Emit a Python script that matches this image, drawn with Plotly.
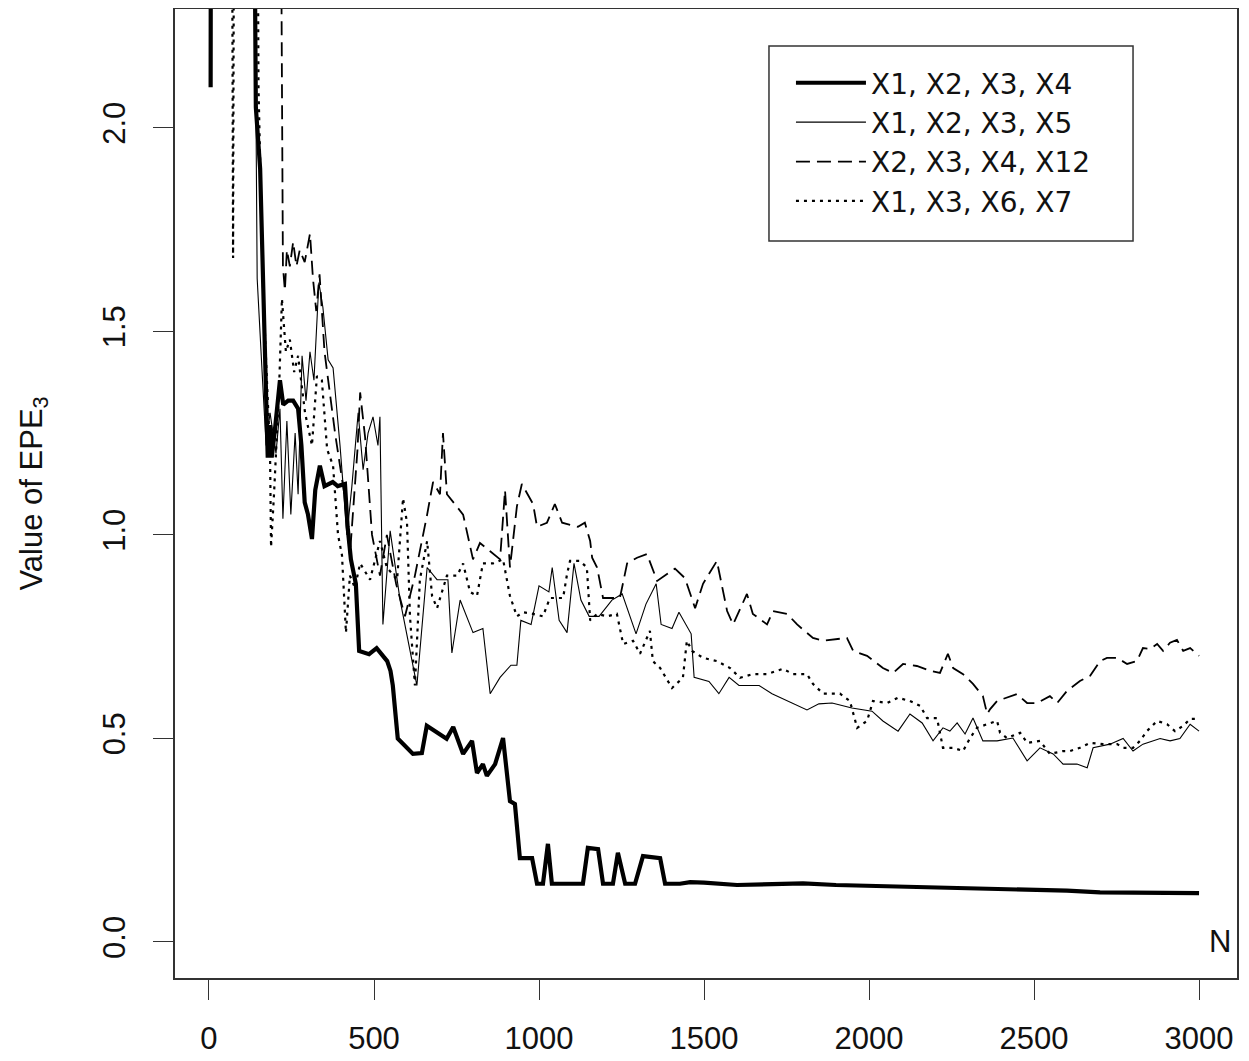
import plotly.graph_objects as go

# ---- data ----
n_x1x2x3x4 = [5, 10, 125, 142, 155, 165, 172, 178, 185, 190, 200, 215, 225, 240, 255, 270, 280, 290, 300, 312,
              322, 336, 350, 375, 390, 412, 420, 430, 445, 455, 485, 508, 540, 550, 557, 572, 618, 645, 660, 720,
              740, 770, 797, 812, 830, 842, 867, 891, 912, 927, 942, 979, 994, 1012, 1027, 1039, 1133, 1148, 1179,
              1194, 1224, 1239, 1261, 1291, 1315, 1367, 1382, 1427, 1458, 1500, 1600, 1700, 1800, 1900, 2000,
              2100, 2200, 2300, 2400, 2500, 2600, 2700, 2800, 2900, 3000]
v_x1x2x3x4 = [2.10, 6.0, 4.0, 2.05, 1.90, 1.60, 1.35, 1.19, 1.27, 1.19, 1.26, 1.38, 1.32, 1.33, 1.33, 1.31, 1.22,
              1.08, 1.05, 0.99, 1.11, 1.17, 1.12, 1.13, 1.12, 1.125, 1.02, 0.94, 0.88, 0.715, 0.707, 0.722, 0.69,
              0.666, 0.63, 0.50, 0.462, 0.464, 0.531, 0.499, 0.528, 0.462, 0.494, 0.415, 0.437, 0.408, 0.437, 0.501,
              0.346, 0.339, 0.206, 0.206, 0.143, 0.143, 0.241, 0.143, 0.143, 0.231, 0.228, 0.143, 0.143, 0.219,
              0.143, 0.143, 0.211, 0.206, 0.143, 0.143, 0.147, 0.146, 0.140, 0.142, 0.144, 0.140, 0.138, 0.138,
              0.135, 0.132, 0.131, 0.128, 0.126, 0.122, 0.121, 0.121, 0.120]

n_x1x2x3x5 = [125, 146, 161, 173, 185, 203, 215, 224, 236, 248, 261, 270, 282, 294, 306, 318, 333, 345, 361, 376,
              397, 418, 433, 452, 467, 482, 497, 512, 518, 527, 549, 579, 630, 661, 691, 724, 736, 761, 800, 830,
              852, 882, 915, 933, 945, 976, 1000, 1030, 1040, 1061, 1085, 1106, 1127, 1152, 1182, 1221, 1252, 1294,
              1324, 1355, 1370, 1403, 1424, 1461, 1470, 1515, 1545, 1576, 1606, 1636, 1667, 1706, 1758, 1812, 1848,
              1888, 1948, 2009, 2042, 2088, 2124, 2161, 2194, 2224, 2245, 2267, 2291, 2315, 2345, 2388, 2436, 2479,
              2518, 2558, 2588, 2630, 2661, 2679, 2730, 2770, 2800, 2830, 2882, 2912, 2942, 2973, 3000]
v_x1x2x3x5 = [4.0, 1.63, 1.40, 1.22, 1.30, 1.20, 1.31, 1.04, 1.28, 1.05, 1.25, 1.10, 1.44, 1.33, 1.45, 1.38, 1.62,
              1.56, 1.43, 1.41, 1.22, 1.00, 1.12, 1.30, 1.16, 1.25, 1.29, 1.22, 1.29, 0.78, 1.01, 0.84, 0.63, 0.92,
              0.89, 0.89, 0.71, 0.84, 0.76, 0.77, 0.61, 0.65, 0.68, 0.68, 0.79, 0.78, 0.875, 0.86, 0.92, 0.79, 0.76,
              0.93, 0.84, 0.80, 0.80, 0.84, 0.855, 0.757, 0.83, 0.88, 0.78, 0.77, 0.81, 0.757, 0.65, 0.64, 0.61,
              0.65, 0.63, 0.63, 0.63, 0.61, 0.59, 0.57, 0.585, 0.587, 0.575, 0.567, 0.543, 0.518, 0.56, 0.538,
              0.494, 0.526, 0.518, 0.538, 0.511, 0.55, 0.494, 0.494, 0.501, 0.445, 0.477, 0.462, 0.437, 0.437,
              0.428, 0.477, 0.486, 0.50, 0.469, 0.486, 0.50, 0.494, 0.50, 0.535, 0.518]

n_x2x3x4x12 = [212, 224, 230, 236, 245, 255, 265, 275, 290, 306, 315, 325, 335, 350, 382, 410, 427, 450, 458, 473,
               494, 518, 539, 567, 594, 624, 661, 679, 700, 709, 721, 752, 770, 800, 821, 852, 882, 897, 912, 933,
               948, 982, 994, 1024, 1048, 1070, 1118, 1139, 1155, 1161, 1176, 1194, 1245, 1267, 1297, 1327, 1358,
               1388, 1412, 1442, 1473, 1497, 1539, 1570, 1588, 1630, 1648, 1691, 1709, 1752, 1782, 1830, 1861,
               1933, 1952, 1994, 2042, 2073, 2103, 2145, 2185, 2215, 2239, 2255, 2285, 2315, 2345, 2358, 2367,
               2388, 2418, 2448, 2479, 2509, 2548, 2570, 2600, 2618, 2639, 2670, 2700, 2721, 2752, 2782, 2812,
               2830, 2852, 2873, 2891, 2912, 2933, 2952, 2973, 3000]
v_x2x3x4x12 = [3.5, 1.66, 1.60, 1.70, 1.66, 1.72, 1.66, 1.70, 1.67, 1.74, 1.63, 1.55, 1.64, 1.45, 1.25, 1.10, 0.95,
               1.21, 1.35, 1.24, 1.00, 0.90, 1.00, 0.88, 0.80, 0.90, 1.05, 1.13, 1.10, 1.25, 1.10, 1.07, 1.05, 0.94,
               0.98, 0.96, 0.94, 1.11, 0.92, 1.07, 1.125, 1.076, 1.02, 1.03, 1.076, 1.03, 1.02, 1.03, 0.985, 0.944,
               0.92, 0.845, 0.845, 0.93, 0.944, 0.953, 0.887, 0.904, 0.917, 0.894, 0.82, 0.88, 0.936, 0.813, 0.78,
               0.855, 0.806, 0.78, 0.813, 0.806, 0.78, 0.747, 0.74, 0.747, 0.715, 0.703, 0.673, 0.661, 0.683,
               0.678, 0.666, 0.661, 0.708, 0.673, 0.658, 0.634, 0.604, 0.56, 0.572, 0.592, 0.60, 0.609, 0.587,
               0.587, 0.604, 0.587, 0.617, 0.629, 0.641, 0.654, 0.69, 0.698, 0.698, 0.683, 0.69, 0.722, 0.72,
               0.732, 0.715, 0.735, 0.742, 0.715, 0.722, 0.703]

n_x1x3x6x7 = [65, 73, 80, 140, 150, 164, 176, 185, 188, 197, 212, 221, 233, 245, 258, 270, 291, 312, 327, 342, 358,
              376, 391, 403, 415, 427, 442, 458, 488, 518, 539, 570, 588, 600, 609, 624, 639, 661, 676, 691, 721,
              752, 770, 791, 812, 830, 861, 891, 912, 933, 952, 982, 1012, 1033, 1073, 1085, 1094, 1124, 1145,
              1155, 1176, 1206, 1236, 1255, 1285, 1306, 1336, 1345, 1367, 1403, 1436, 1448, 1464, 1497, 1539,
              1579, 1609, 1648, 1691, 1739, 1770, 1812, 1830, 1861, 1912, 1942, 1964, 1994, 2012, 2055, 2088,
              2124, 2155, 2176, 2206, 2224, 2255, 2285, 2306, 2327, 2358, 2388, 2397, 2418, 2458, 2479, 2518,
              2548, 2588, 2609, 2639, 2670, 2709, 2752, 2770, 2800, 2821, 2842, 2873, 2903, 2927, 2952, 2973, 3000]
v_x1x3x6x7 = [4.0, 1.68, 4.0, 4.0, 2.10, 1.60, 1.35, 1.20, 0.97, 1.10, 1.35, 1.58, 1.45, 1.48, 1.40, 1.44, 1.30,
              1.22, 1.39, 1.38, 1.21, 1.17, 1.00, 0.95, 0.76, 0.90, 0.87, 0.93, 0.89, 0.985, 0.92, 0.89, 1.09, 1.03,
              0.80, 0.63, 0.89, 0.985, 0.85, 0.82, 0.90, 0.90, 0.93, 0.86, 0.85, 0.93, 0.93, 0.94, 0.85, 0.80, 0.81,
              0.806, 0.80, 0.845, 0.845, 0.904, 0.936, 0.936, 0.92, 0.79, 0.806, 0.80, 0.806, 0.732, 0.74, 0.708,
              0.764, 0.69, 0.673, 0.624, 0.649, 0.74, 0.715, 0.698, 0.69, 0.673, 0.649, 0.658, 0.658, 0.671, 0.658,
              0.658, 0.634, 0.61, 0.61, 0.592, 0.526, 0.543, 0.592, 0.587, 0.60, 0.592, 0.58, 0.55, 0.55, 0.477,
              0.477, 0.469, 0.501, 0.526, 0.535, 0.543, 0.514, 0.501, 0.514, 0.489, 0.494, 0.462, 0.469, 0.469,
              0.477, 0.489, 0.486, 0.486, 0.477, 0.477, 0.494, 0.518, 0.543, 0.535, 0.518, 0.531, 0.548, 0.548]

series_names = ["X1, X2, X3, X4", "X1, X2, X3, X5", "X2, X3, X4, X12", "X1, X3, X6, X7"]
x_ticks = [0, 500, 1000, 1500, 2000, 2500, 3000]
y_ticks = [0.0, 0.5, 1.0, 1.5, 2.0]
y_title = "Value of EPE<sub>3</sub>"
x_label = "N"

FONT = "Liberation Sans, Arial, sans-serif"
LEG_FONT = "DejaVu Sans, Liberation Sans, sans-serif"
INK = "#111111"

fig = go.Figure()
fig.add_trace(go.Scatter(x=n_x1x2x3x4, y=v_x1x2x3x4, mode="lines", name=series_names[0],
                         line=dict(color="black", width=4.2)))
fig.add_trace(go.Scatter(x=n_x1x2x3x5, y=v_x1x2x3x5, mode="lines", name=series_names[1],
                         line=dict(color="black", width=1.1)))
fig.add_trace(go.Scatter(x=n_x2x3x4x12, y=v_x2x3x4x12, mode="lines", name=series_names[2],
                         line=dict(color="black", width=1.8, dash="14px,7px")))
fig.add_trace(go.Scatter(x=n_x1x3x6x7, y=v_x1x3x6x7, mode="lines", name=series_names[3],
                         line=dict(color="black", width=2.2, dash="3px,5px")))

axis_common = dict(showgrid=False, zeroline=False, showline=True, mirror=True, linecolor="#333333",
                   linewidth=1.5, ticks="outside", ticklen=20, tickwidth=1.2, tickcolor="#333333",
                   automargin=False,
                   tickfont=dict(family=FONT, size=31, color=INK))

fig.update_xaxes(range=[-103, 3115], tickvals=x_ticks, ticktext=[str(v) for v in x_ticks],
                 ticklabelstandoff=12, **axis_common)
fig.update_yaxes(range=[-0.0885, 2.292], tickvals=y_ticks, ticktext=["%.1f" % v for v in y_ticks],
                 tickangle=-90, ticklabelstandoff=16, **axis_common)

fig.update_layout(
    width=1241, height=1053,
    margin=dict(l=167, r=12, t=1, b=83, autoexpand=False),
    paper_bgcolor="white", plot_bgcolor="white",
    font=dict(family=FONT, size=30, color=INK),
    showlegend=True,
    legend=dict(x=0.5800, y=0.9494, xanchor="left", yanchor="top",
                bgcolor="rgba(0,0,0,0)", borderwidth=0,
                font=dict(family=LEG_FONT, size=28, color=INK),
                itemwidth=70, tracegroupgap=0),
    shapes=[
        # legend frame
        dict(type="rect", xref="paper", yref="paper", x0=0.5593, x1=0.9021, y0=0.7606, y1=0.9618,
             line=dict(color="#333333", width=1.5), fillcolor="white", layer="above"),
    ],
    annotations=[
        dict(text=y_title, xref="paper", yref="paper", x=-0.1337, y=0.5, textangle=-90,
             showarrow=False, font=dict(family=FONT, size=31, color=INK),
             xanchor="center", yanchor="middle"),
        dict(text=x_label, xref="x", yref="y", x=3062, y=0.0, showarrow=False,
             font=dict(family=FONT, size=31, color=INK), xanchor="center", yanchor="middle"),
    ],
)

fig.write_html("out.html")
